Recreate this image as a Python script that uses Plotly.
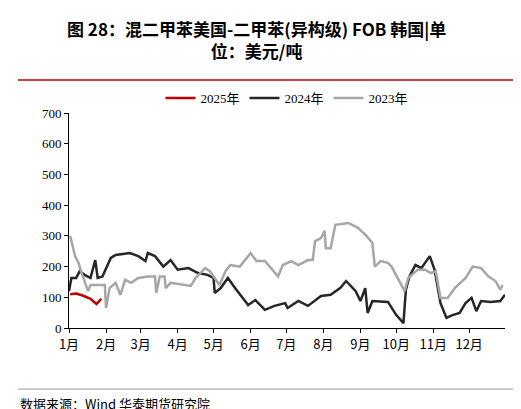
import plotly.graph_objects as go
import datetime as dt

# pixel-read positions converted to day-of-year offsets
px23 = [62,67,71,73,80,83,97,98,102,107,112,117,123,130,140,147,148,152,156,158,163,183,188,197,202,212,217,222,232,242,248,257,270,275,283,290,300,305,307,313,317,318,323,327,340,350,358,365,367,373,380,383,397,400,410,417,423,428,433,440,447,457,465,473,480,487,492,495]
v23 = [300,235,212,185,120,140,140,65,130,147,108,157,147,163,168,168,114,168,168,130,147,137,163,195,185,140,185,205,200,244,218,218,168,205,218,205,221,221,283,293,316,260,260,336,342,326,300,277,200,218,212,200,120,163,190,190,179,185,98,98,130,163,200,195,168,153,125,140]
px24 = [61,63,68,72,77,82,87,90,95,103,108,122,130,137,140,147,155,163,170,180,190,200,205,207,213,220,227,233,240,247,257,267,277,280,290,300,313,323,332,338,348,353,357,360,365,380,388,395,398,402,407,413,422,427,432,438,445,452,457,463,468,473,483,492,497]
v24 = [120,163,163,185,173,163,221,163,168,228,238,244,234,218,244,234,200,221,190,195,179,173,163,114,130,163,130,104,75,91,59,72,81,65,88,72,104,108,130,153,120,88,130,49,88,85,42,16,124,168,205,195,234,190,81,33,42,49,81,98,55,88,85,88,108]
px25 = [62,68,75,82,88,93]
v25 = [110,112,105,95,78,95]

months = ["1月","2月","3月","4月","5月","6月","7月","8月","9月","10月","11月","12月"]

base = dt.date(2024, 1, 1)
def to_dates(pxs):
    return [base + dt.timedelta(days=round((p - 61) * 365 / 436)) for p in pxs]

fig = go.Figure()
fig.add_trace(go.Scatter(x=to_dates(px25), y=v25, name="2025年", mode="lines", line=dict(color="#c00000", width=2.5)))
fig.add_trace(go.Scatter(x=to_dates(px24), y=v24, name="2024年", mode="lines", line=dict(color="#262626", width=2.5)))
fig.add_trace(go.Scatter(x=to_dates(px23), y=v23, name="2023年", mode="lines", line=dict(color="#a6a6a6", width=2.5)))

tickvals = [dt.date(2024, m, 1) for m in range(1, 13)]
fig.update_layout(
    width=521, height=409, plot_bgcolor="white", paper_bgcolor="white",
    margin=dict(l=61, r=24, t=105, b=89),
    font=dict(family="Noto Sans CJK SC, Liberation Serif", size=13, color="#000"),
    showlegend=True,
    legend=dict(orientation="h", x=0.5, xanchor="center", y=1.0, yanchor="bottom",
                bgcolor="rgba(0,0,0,0)",
                font=dict(family="Liberation Serif, Noto Sans CJK SC", size=13)),
    xaxis=dict(type="date", range=[dt.date(2024,1,1), dt.date(2024,12,31)], tickvals=tickvals,
               ticktext=months, showgrid=False, showline=True, linecolor="#000", linewidth=1,
               ticks="outside", ticklen=4, tickcolor="#000", zeroline=False),
    yaxis=dict(range=[0, 700], dtick=100, showgrid=False, showline=True, linecolor="#000",
               ticks="outside", ticklen=4, tickcolor="#000", zeroline=False,
               tickfont=dict(family="Liberation Serif")),
    shapes=[
        dict(type="line", xref="paper", yref="paper", x0=-0.117, x1=1.055, y0=1.153, y1=1.153,
             line=dict(color="#c00000", width=1.5)),
        dict(type="line", xref="paper", yref="paper", x0=-0.117, x1=1.055, y0=-0.284, y1=-0.284,
             line=dict(color="#999", width=1)),
    ],
    annotations=[
        dict(text="<b>图 28：混二甲苯美国-二甲苯(异构级) FOB 韩国|单</b><br><b>位：美元/吨</b>",
             xref="paper", yref="paper", x=0.43, y=1.34, xanchor="center", yanchor="middle",
             showarrow=False, font=dict(size=17, color="#000"), align="center"),
        dict(text="数据来源：Wind 华泰期货研究院", xref="paper", yref="paper", x=-0.117, y=-0.35,
             xanchor="left", yanchor="middle", showarrow=False, font=dict(size=13, color="#000")),
    ],
)
fig.write_html("out.html")
